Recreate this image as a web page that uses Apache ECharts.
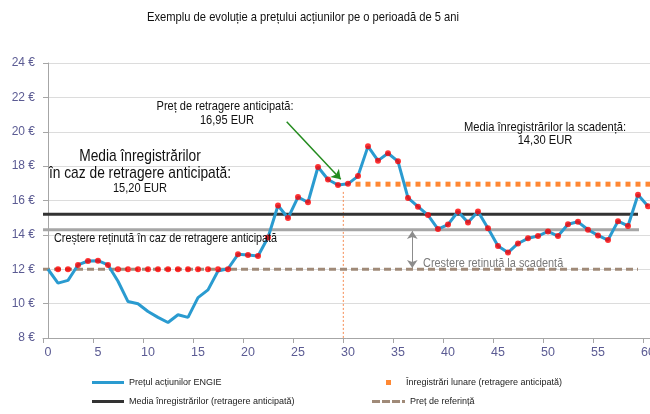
<!DOCTYPE html>
<html><head><meta charset="utf-8">
<script src="https://cdn.jsdelivr.net/npm/echarts@6/dist/echarts.min.js"></script>
<style>html,body{margin:0;padding:0;background:#fff}#c{width:650px;height:414px}</style>
</head><body><div id="c"></div>
<script>
// ---- data ----
const months = [0,1,2,3,4,5,6,7,8,9,10,11,12,13,14,15,16,17,18,19,20,21,22,23,24,25,26,27,28,29,30,31,32,33,34,35,36,37,38,39,40,41,42,43,44,45,46,47,48,49,50,51,52,53,54,55,56,57,58,59,60];
const sharePrice = [12.0,11.19,11.35,12.25,12.48,12.5,12.25,11.3,10.12,9.99,9.54,9.2,8.9,9.35,9.2,10.35,10.8,11.9,12.03,12.87,12.83,12.77,13.85,15.71,14.98,16.2,15.9,17.95,17.22,16.9,16.97,17.42,19.15,18.32,18.75,18.28,16.15,15.64,15.15,14.34,14.6,15.36,14.72,15.36,14.38,13.35,12.97,13.5,13.8,13.93,14.2,13.93,14.62,14.76,14.3,13.97,13.7,14.8,14.52,16.33,15.66];
const recordMonths = [1,2,3,4,5,6,7,8,9,10,11,12,13,14,15,16,17,18,19,20,21,22,23,24,25,26,27,28,29,30,31,32,33,34,35,36,37,38,39,40,41,42,43,44,45,46,47,48,49,50,51,52,53,54,55,56,57,58,59,60];
const monthlyRecords = [12,12,12.25,12.48,12.5,12.25,12,12,12,12,12,12,12,12,12,12,12,12,12.87,12.83,12.77,13.85,15.71,14.98,16.2,15.9,17.95,17.22,16.9,16.97,17.42,19.15,18.32,18.75,18.28,16.15,15.64,15.15,14.34,14.6,15.36,14.72,15.36,14.38,13.35,12.97,13.5,13.8,13.93,14.2,13.93,14.62,14.76,14.3,13.97,13.7,14.8,14.52,16.33,15.66];
const earlyMonths = [31,32,33,34,35,36,37,38,39,40,41,42,43,44,45,46,47,48,49,50,51,52,53,54,55,56,57,58,59,60];
const earlyPrice = 16.95;
const avgEarly = 15.20;
const avgMaturity = 14.30;
const referencePrice = 12.0;
const yTicks = [8,10,12,14,16,18,20,22,24];
const xTickLabels = [0,5,10,15,20,25,30,35,40,45,50,55,60];

const NAMES = {
  price: 'Prețul acțiunilor ENGIE',
  avgEarly: 'Media înregistrărilor (retragere anticipată)',
  early: 'Înregistrări lunare (retragere anticipată)',
  ref: 'Preț de referință',
  avgMat: 'Media înregistrărilor la scadență',
  rec: 'Înregistrări lunare (la scadență)'
};

const FONT = '"Liberation Sans", Arial, sans-serif';
const AXIS_COLOR = '#5b5b93';

const chart = echarts.init(document.getElementById('c'), null, {renderer: 'canvas'});

const legendBase = {
  orient: 'horizontal',
  itemGap: 0,
  padding: 0,
  textStyle: {fontFamily: FONT, fontSize: 9, color: '#222'},
  selectedMode: false
};

function label(text, x, y, size, scale, align, color) {
  return {type: 'text', z: 10, x: x, y: y, scaleX: scale, scaleY: 1,
    style: {text: text, x: 0, y: 0, align: align || 'center', verticalAlign: 'middle',
      fontFamily: FONT, fontSize: size, fill: color || '#111'}};
}

const option = {
  animation: false,
  backgroundColor: '#fff',
  grid: {left: 43, top: 63, width: 610, height: 275, containLabel: false, outerBoundsMode: 'none'},
  xAxis: {
    type: 'value', min: -0.5, max: 60.5,
    axisLine: {show: true, lineStyle: {color: '#a6a6a6', width: 1}},
    axisTick: {show: true, length: 5, lineStyle: {color: '#a6a6a6'},
      customValues: xTickLabels.map(v => v - 0.5)},
    axisLabel: {customValues: xTickLabels, color: AXIS_COLOR, fontFamily: FONT, fontSize: 12.5, margin: 8},
    splitLine: {show: false}
  },
  yAxis: {
    type: 'value', min: 8, max: 24, interval: 2,
    axisLine: {show: true, lineStyle: {color: '#a6a6a6', width: 1}},
    axisTick: {show: true, length: 5, lineStyle: {color: '#a6a6a6'}},
    axisLabel: {formatter: '{value} €', color: AXIS_COLOR, fontFamily: FONT, fontSize: 12, margin: 8},
    splitLine: {show: true, lineStyle: {color: '#dcdcdc', width: 1}}
  },
  legend: [
    Object.assign({}, legendBase, {left: 92, top: 378, itemWidth: 32, itemHeight: 3,
      data: [{name: NAMES.price, icon: 'rect', itemStyle: {color: '#2a9bd0', borderWidth: 0}}]}),
    Object.assign({}, legendBase, {left: 92, top: 397, itemWidth: 32, itemHeight: 3,
      data: [{name: NAMES.avgEarly, icon: 'rect', itemStyle: {color: '#333333', borderWidth: 0}}]}),
    Object.assign({}, legendBase, {left: 386, top: 378, itemWidth: 5, itemHeight: 5,
      textStyle: {fontFamily: FONT, fontSize: 9, color: '#222', padding: [0,0,0,10]},
      data: [{name: NAMES.early, icon: 'rect', itemStyle: {color: '#ff6a00', borderWidth: 0}}]}),
    Object.assign({}, legendBase, {left: 372, top: 397, itemWidth: 33, itemHeight: 3,
      data: [{name: NAMES.ref, icon: 'path://M0,0h8v3h-8z M10,0h8v3h-8z M20,0h8v3h-8z M30,0h3v3h-3z',
        itemStyle: {color: '#a08a78', borderWidth: 0}}]})
  ],
  series: [
    {
      name: NAMES.ref, type: 'line', z: 2,
      data: [[-0.5, referencePrice], [59, referencePrice]],
      showSymbol: false, symbol: 'none',
      lineStyle: {color: '#a08a78', width: 3, type: [7, 4]},
      itemStyle: {color: '#a08a78'}
    },
    {
      name: NAMES.avgMat, type: 'line', z: 2,
      data: [[-0.5, avgMaturity], [59.1, avgMaturity]],
      showSymbol: false, symbol: 'none',
      lineStyle: {color: '#a6a6a6', width: 3},
      itemStyle: {color: '#a6a6a6'}
    },
    {
      name: NAMES.avgEarly, type: 'line', z: 2,
      data: [[-0.5, avgEarly], [59, avgEarly]],
      showSymbol: false, symbol: 'none',
      lineStyle: {color: '#333333', width: 3},
      itemStyle: {color: '#333333'}
    },
    {
      name: 'vline', type: 'line', z: 1,
      data: [[29.53, 16.5], [29.53, 8]],
      showSymbol: false, symbol: 'none',
      lineStyle: {color: '#f58a50', width: 1, type: [2, 2]}
    },
    {
      name: NAMES.early, type: 'scatter', z: 3,
      data: earlyMonths.map(m => [m, earlyPrice]),
      symbol: 'rect', symbolSize: [5, 5],
      itemStyle: {color: '#ff6a00'}
    },
    {
      name: NAMES.price, type: 'line', z: 4,
      data: months.map((m, i) => [m, sharePrice[i]]),
      showSymbol: false, symbol: 'none',
      lineStyle: {color: '#2a9bd0', width: 3},
      itemStyle: {color: '#2a9bd0'},
      markLine: {
        silent: true, animation: false,
        label: {show: false},
        data: [
          [{coord: [23.87, 20.58], symbol: 'none', lineStyle: {color: '#238b1e', width: 1.5, type: 'solid'}},
           {coord: [29.27, 17.23], symbol: 'arrow', symbolSize: 9}],
          [{coord: [36.43, 14.22], symbol: 'arrow', symbolSize: 8, lineStyle: {color: '#8c8c8c', width: 1, type: 'solid'}},
           {coord: [36.43, 12.08], symbol: 'arrow', symbolSize: 8}]
        ]
      }
    },
    {
      name: NAMES.rec, type: 'scatter', z: 5,
      data: recordMonths.map((m, i) => [m, monthlyRecords[i]]),
      symbol: 'circle', symbolSize: 6,
      itemStyle: {color: '#ff0000'}
    }
  ],
  graphic: [
    label('Exemplu de evoluție a prețului acțiunilor pe o perioadă de 5 ani', 303, 17, 13, 0.86),
    label('Preț de retragere anticipată:', 225, 106, 13, 0.85),
    label('16,95 EUR', 227, 120, 13, 0.85),
    label('Media înregistrărilor', 140, 156, 17, 0.81),
    label('în caz de retragere anticipată:', 140, 173, 17, 0.81),
    label('15,20 EUR', 140, 188, 13, 0.85),
    label('Media înregistrărilor la scadență:', 545, 127, 13, 0.86),
    label('14,30 EUR', 545, 140, 13, 0.86),
    label('Creștere reținută în caz de retragere anticipată', 54, 238, 13, 0.83, 'left'),
    label('Creștere reținută la scadență', 423, 263, 13, 0.84, 'left', '#7a7a7a')
  ]
};
chart.setOption(option);
</script>
</body></html>
